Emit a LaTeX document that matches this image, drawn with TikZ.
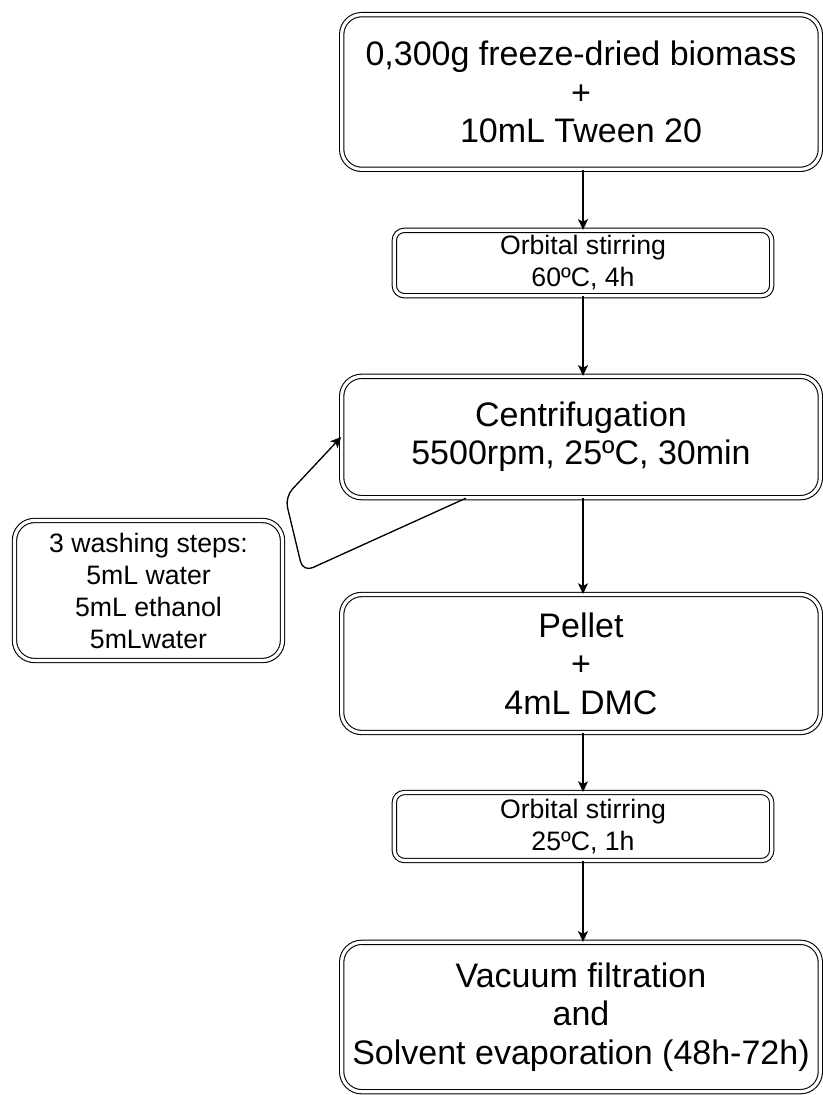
\documentclass[tikz,border=0pt]{standalone}
\usepackage{fontspec}
\setmainfont{Liberation Sans}
\usetikzlibrary{arrows.meta,shadows}

\begin{document}
\begin{tikzpicture}[x=0.75pt, y=-0.75pt,
  stepbox/.style={draw=black, double=white, double distance=2.4pt, line width=0.8pt, fill=white, align=center, inner sep=0pt, drop shadow={shadow xshift=1.5pt, shadow yshift=-1.5pt, opacity=0.22}},
  bigbox/.style={stepbox, minimum width=359pt, rounded corners=15pt, font=\fontsize{25.5}{28.8}\selectfont},
  stirbox/.style={stepbox, minimum width=283pt, rounded corners=7.5pt, font=\fontsize{20}{24}\selectfont},
  flow/.style={draw=black, line width=1pt, -{Stealth[length=8pt, width=7.5pt, inset=2pt]}}]
  \useasboundingbox (0,0) rectangle (823,1095);
  % main line of steps
  \node[bigbox, minimum height=116pt] (biomass) at (581,92) {0,300g freeze-dried biomass\\+\\10mL Tween 20};
  \node[stirbox, minimum height=49pt] (stirhot) at (583,263) {Orbital stirring\\60ºC, 4h};
  \node[bigbox, minimum height=91pt] (centrif) at (581,437) {Centrifugation\\5500rpm, 25ºC, 30min};
  \node[bigbox, minimum height=103.5pt] (pellet) at (581,663.5) {Pellet\\+\\4mL DMC};
  \node[stirbox, minimum height=51pt] (stircold) at (583,826.5) {Orbital stirring\\25ºC, 1h};
  \node[bigbox, minimum height=112pt] (vacuum) at (581,1017) {Vacuum filtration\\and\\Solvent evaporation (48h-72h)};
  % washing
  \node[stepbox, minimum width=201pt, minimum height=105pt, rounded corners=15pt, font=\fontsize{20}{24}\selectfont] (washing) at (148.5,590.5) {3 washing steps:\\5mL water\\5mL ethanol\\5mLwater};
  \draw[flow] (biomass.south -| stirhot.north) -- (stirhot.north);
  \draw[flow] (stirhot.south) -- (stirhot.south |- centrif.north);
  \draw[flow] (centrif.south -| stirhot.south) -- (pellet.north -| stirhot.south);
  \draw[flow] (pellet.south -| stircold.north) -- (stircold.north);
  \draw[flow] (stircold.south) -- (stircold.south |- vacuum.north);
  % loop back
  \draw[flow, rounded corners=8pt] (centrif.208) -- (303,572) -- (285,497) -- (centrif.west);
\end{tikzpicture}
\end{document}
